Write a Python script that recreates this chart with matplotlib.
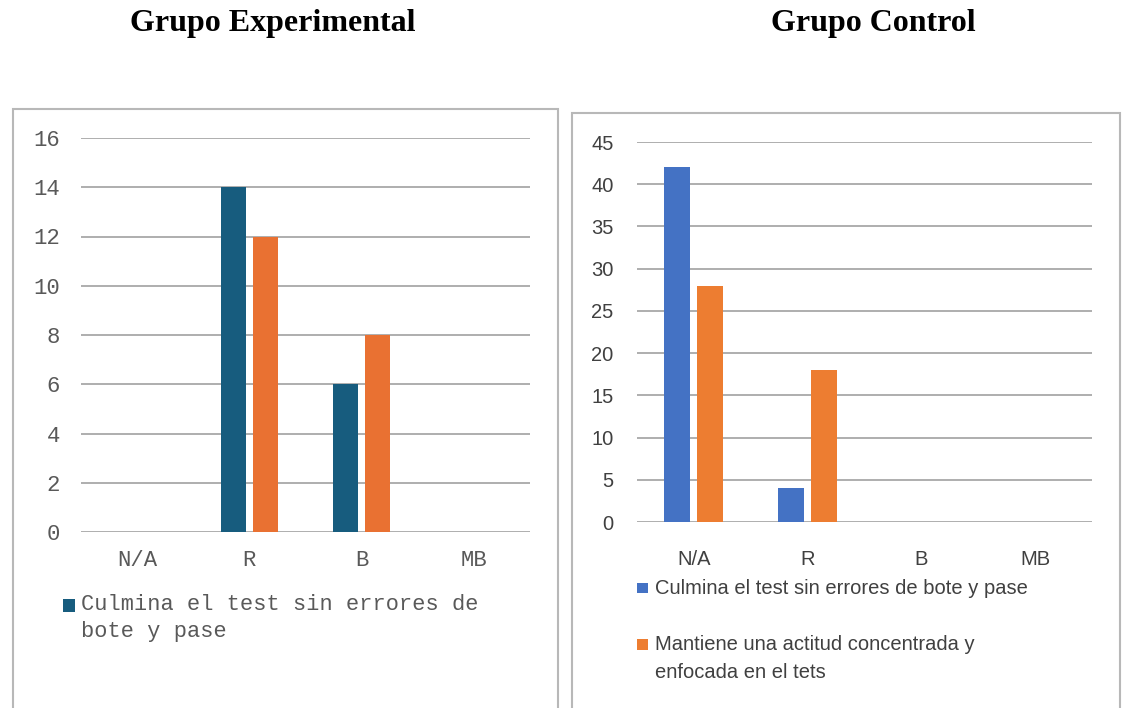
import numpy as np
import matplotlib
matplotlib.use('Agg')
import matplotlib.pyplot as plt
from matplotlib.patches import Rectangle

# data
categories = ['N/A', 'R', 'B', 'MB']
exp_culmina = [0, 14, 6, 0]
exp_mantiene = [0, 12, 8, 0]
ctrl_culmina = [42, 4, 0, 0]
ctrl_mantiene = [28, 18, 0, 0]
exp_ticks = [0, 2, 4, 6, 8, 10, 12, 14, 16]
ctrl_ticks = [0, 5, 10, 15, 20, 25, 30, 35, 40, 45]
titles = ['Grupo Experimental', 'Grupo Control']
exp_legend = ['Culmina el test sin errores de\nbote y pase']
ctrl_legend = ['Culmina el test sin errores de bote y pase',
               'Mantiene una actitud concentrada y\nenfocada en el tets']

W, H = 1127, 708
fig = plt.figure(figsize=(W / 100, H / 100), dpi=100)
fig.patch.set_facecolor('white')


def fx(px):
    return px / W


def fy(py):
    return 1 - py / H


# panel frames
fig.add_artist(Rectangle((fx(13), fy(712)), fx(558 - 13), (712 - 109) / H,
                         transform=fig.transFigure, fill=False, ec='#b8b8b8', lw=1.5))
fig.add_artist(Rectangle((fx(572), fy(712)), fx(1120 - 572), (712 - 113) / H,
                         transform=fig.transFigure, fill=False, ec='#b8b8b8', lw=1.5))

# titles
fig.text(fx(273), fy(24), titles[0], family='Liberation Serif', weight='bold',
         fontsize=23, ha='center', va='center')
fig.text(fx(873), fy(24), titles[1], family='Liberation Serif', weight='bold',
         fontsize=23, ha='center', va='center')

x = np.arange(len(categories))

# --- Grupo Experimental ---
ax1 = fig.add_axes([fx(81), fy(532), fx(530 - 81), (532 - 138) / H])
ax1.bar(x - 0.143, exp_culmina, width=0.223, color='#175c7e', lw=0, zorder=3)
ax1.bar(x + 0.143, exp_mantiene, width=0.223, color='#e97132', lw=0, zorder=3)
ax1.set_xlim(-0.5, 3.5)
ax1.set_ylim(0, 16)
ax1.set_yticks(exp_ticks)
ax1.set_xticks(x)
ax1.set_xticklabels(categories)
ax1.grid(axis='y', color='#a8a8a8', lw=1.3, zorder=0)
for s in ax1.spines.values():
    s.set_visible(False)
ax1.tick_params(length=0, colors='#595959', labelsize=16)
ax1.tick_params(axis='y', pad=15)
ax1.tick_params(axis='x', pad=13)
for lab in ax1.get_xticklabels() + ax1.get_yticklabels():
    lab.set_family('Liberation Mono')

fig.add_artist(Rectangle((fx(63), fy(612)), fx(12), 13 / H,
                         transform=fig.transFigure, color='#175c7e', lw=0))
fig.text(fx(81), fy(594), exp_legend[0], family='Liberation Mono', fontsize=15.8,
         color='#595959', ha='left', va='top', linespacing=1.38)

# --- Grupo Control ---
ax2 = fig.add_axes([fx(637), fy(522), fx(1092 - 637), (522 - 142) / H])
ax2.bar(x - 0.145, ctrl_culmina, width=0.229, color='#4472c4', lw=0, zorder=3)
ax2.bar(x + 0.145, ctrl_mantiene, width=0.229, color='#ed7d31', lw=0, zorder=3)
ax2.set_xlim(-0.5, 3.5)
ax2.set_ylim(0, 45)
ax2.set_yticks(ctrl_ticks)
ax2.set_xticks(x)
ax2.set_xticklabels(categories)
ax2.grid(axis='y', color='#a8a8a8', lw=1.3, zorder=0)
for s in ax2.spines.values():
    s.set_visible(False)
ax2.tick_params(length=0, colors='#404040', labelsize=14.5)
ax2.tick_params(axis='y', pad=17)
ax2.tick_params(axis='x', pad=20)
for lab in ax2.get_xticklabels() + ax2.get_yticklabels():
    lab.set_family('Liberation Sans')

fig.add_artist(Rectangle((fx(637), fy(593)), fx(11), 10 / H,
                         transform=fig.transFigure, color='#4472c4', lw=0))
fig.text(fx(655), fy(588), ctrl_legend[0], family='Liberation Sans', fontsize=14.5,
         color='#404040', ha='left', va='center')
fig.add_artist(Rectangle((fx(637), fy(650)), fx(11), 11 / H,
                         transform=fig.transFigure, color='#ed7d31', lw=0))
fig.text(fx(655), fy(635), ctrl_legend[1], family='Liberation Sans', fontsize=14.5,
         color='#404040', ha='left', va='top', linespacing=1.6)

plt.savefig('out.png', dpi=100, facecolor='white')
